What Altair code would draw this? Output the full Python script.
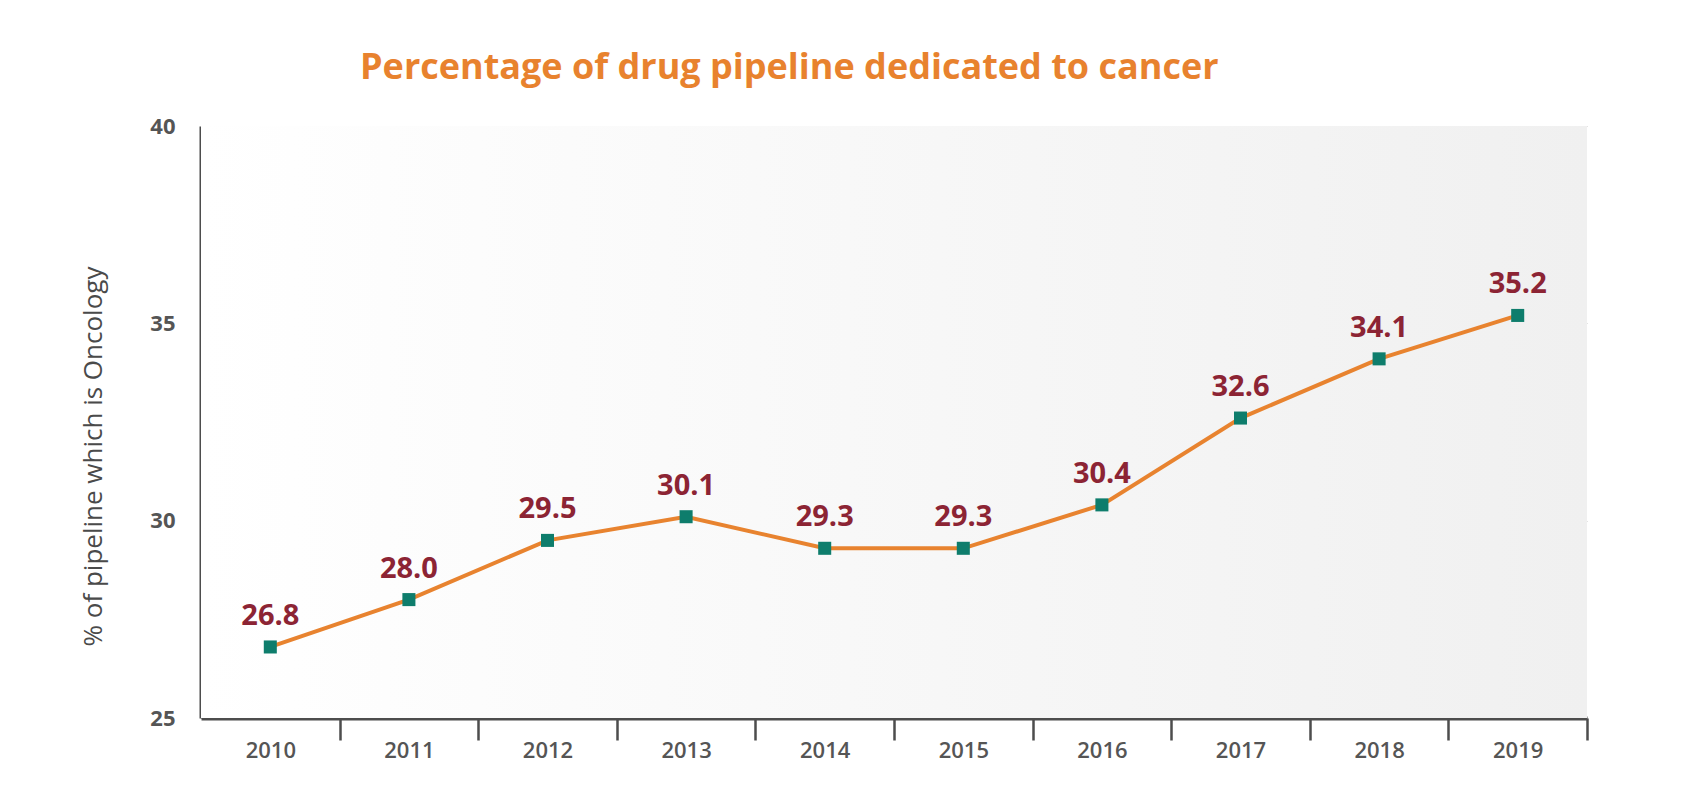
import altair as alt
import pandas as pd

years = ["2010", "2011", "2012", "2013", "2014", "2015", "2016", "2017", "2018", "2019"]
values = [26.8, 28.0, 29.5, 30.1, 29.3, 29.3, 30.4, 32.6, 34.1, 35.2]
labels = ["26.8", "28.0", "29.5", "30.1", "29.3", "29.3", "30.4", "32.6", "34.1", "35.2"]
y_ticks = [25, 30, 35, 40]

df = pd.DataFrame({"year": years, "value": values, "label": labels})

W, H = 1386, 592
FONT = "Open Sans"
GRAY = "#555555"
AXIS = "#4d4d4d"

x_enc = alt.X(
    "year:O",
    scale=alt.Scale(paddingInner=0, paddingOuter=0),
    axis=alt.Axis(
        title=None,
        labelAngle=0,
        tickBand="extent",
        tickOpacity={"condition": {"test": "datum.extra", "value": 0}, "value": 1},
        domainWidth=4,
        domainColor=AXIS,
        tickColor=AXIS,
        tickWidth=2.5,
        tickSize=22,
        labelFontSize=22,
        labelFont=FONT,
        labelFontWeight=600,
        labelColor=GRAY,
        labelBaseline="alphabetic",
        labelPadding=17,
        grid=False,
    ),
)
y_enc = alt.Y(
    "value:Q",
    scale=alt.Scale(domain=[25, 40], nice=False, zero=False),
    axis=alt.Axis(
        values=y_ticks,
        ticks=False,
        domainWidth=4,
        domainColor=AXIS,
        grid=True,
        gridColor="#c8c8c8",
        gridWidth=1.2,
        labelFontSize=22,
        labelFont=FONT,
        labelFontWeight="bold",
        labelColor=GRAY,
        labelPadding=26,
        title="% of pipeline which is Oncology",
        titleFont=FONT,
        titleFontSize=26,
        titleFontWeight="normal",
        titleColor="#4a4a4a",
        titleAngle=270,
        titleX=-108,
        titleY=330,
        titleAlign="center",
        titleBaseline="middle",
    ),
)

gradient = alt.LinearGradient(
    gradient="linear",
    stops=[
        alt.GradientStop(color="#ffffff", offset=0),
        alt.GradientStop(color="#f0f0f0", offset=1),
    ],
    x1=0,
    x2=1,
    y1=0,
    y2=0,
)

bg = alt.Chart(pd.DataFrame({"k": [0]})).mark_rect(fill=gradient).encode(
    x=alt.value(0), x2=alt.value(W), y=alt.value(0), y2=alt.value(H)
)

base = alt.Chart(df).encode(x=x_enc, y=y_enc)

line = base.mark_line(color="#E8832F", strokeWidth=4)
pts = base.mark_point(shape="square", filled=True, size=170, color="#0E7D6C", opacity=1)
txt = base.mark_text(
    font=FONT, fontSize=29, fontWeight="bold", color="#8C2434", dy=-22, baseline="alphabetic"
).encode(text="label:N")

chart = (
    alt.layer(bg, line, pts, txt)
    .properties(
        width=W,
        height=H,
        autosize=alt.AutoSizeParams(type="none"),
        padding={"left": 193, "top": 118, "right": 90, "bottom": 70},
        background="#ffffff",
        title=alt.TitleParams(
            text="Percentage of drug pipeline dedicated to cancer",
            font=FONT,
            fontSize=36,
            fontWeight="bold",
            color="#E8822E",
            anchor="start",
            frame="group",
            dx=159,
            offset=0,
            baseline="alphabetic",
        ),
    )
    .configure_view(strokeWidth=0)
)

chart.save("out.html", embed_options={"renderer": "svg", "actions": False})
